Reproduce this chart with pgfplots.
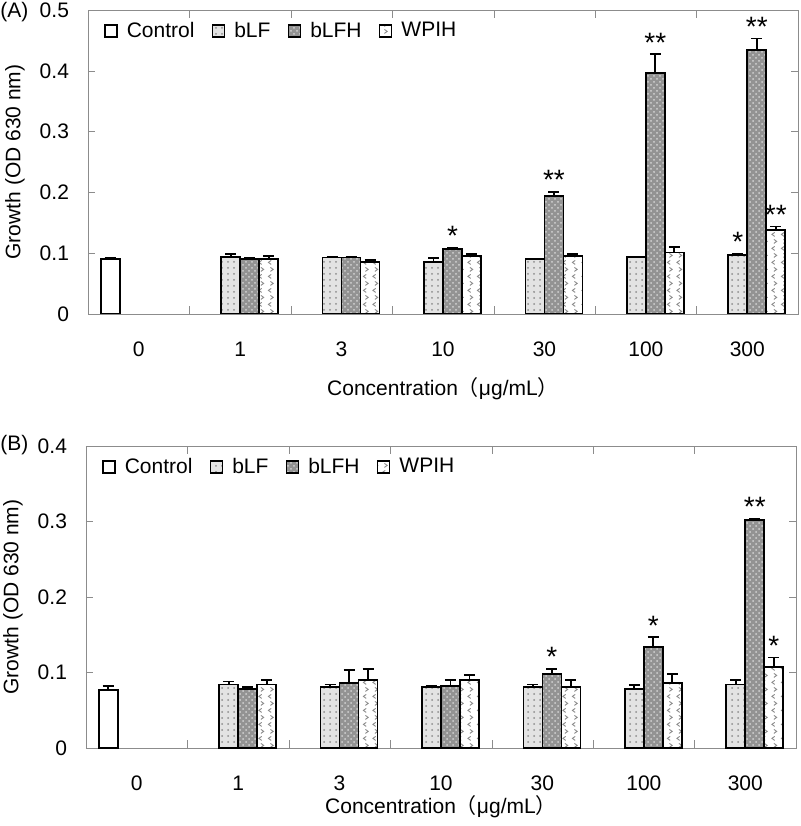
\documentclass[border=0pt]{standalone}
\usepackage{fontspec}
\setmainfont{Liberation Sans}
\newfontfamily\cjk{Noto Sans CJK SC}
\usepackage{pgfplots}
\pgfplotsset{compat=1.18}
\usepackage{pgfplotstable}
\usetikzlibrary{patterns}

% chevron pattern for WPIH
\pgfdeclarepatternformonly{chev}{\pgfqpoint{-1pt}{-1pt}}{\pgfqpoint{6pt}{8pt}}{\pgfqpoint{4.75pt}{7pt}}{%
  \pgfsetlinewidth{0.45pt}%
  \pgfpathmoveto{\pgfqpoint{2.6pt}{0.8pt}}\pgfpathlineto{\pgfqpoint{1.2pt}{1.8pt}}\pgfpathlineto{\pgfqpoint{2.6pt}{2.8pt}}%
  \pgfpathmoveto{\pgfqpoint{2.2pt}{4.3pt}}\pgfpathlineto{\pgfqpoint{3.6pt}{5.3pt}}\pgfpathlineto{\pgfqpoint{2.2pt}{6.3pt}}%
  \pgfusepath{stroke}}

% panel A: category index, mean, error
\pgfplotstableread{
x  bLF   bLFe  bLFH  bLFHe WPIH  WPIHe
1  0.094 0.005 0.090 0.002 0.090 0.005
2  0.093 0.001 0.093 0.001 0.085 0.004
3  0.085 0.007 0.107 0.002 0.095 0.004
4  0.090 0.000 0.194 0.007 0.095 0.004
5  0.094 0.000 0.396 0.031 0.101 0.009
6  0.097 0.002 0.434 0.019 0.138 0.006
}\dataA
% panel B
\pgfplotstableread{
x  bLF   bLFe  bLFH  bLFHe WPIH  WPIHe
1  0.084 0.004 0.078 0.003 0.084 0.006
2  0.081 0.003 0.086 0.017 0.090 0.015
3  0.081 0.001 0.082 0.008 0.090 0.007
4  0.081 0.003 0.098 0.007 0.081 0.009
5  0.078 0.005 0.134 0.013 0.086 0.012
6  0.084 0.006 0.302 0.002 0.107 0.013
}\dataB

\tikzset{sig/.style={font=\fontsize{14}{14}\selectfont, anchor=base, inner sep=0pt, yshift=1pt}}

\pgfplotsset{
  panel/.style={
    scale only axis, width=355pt,
    ybar=0pt, bar width=9.5pt,
    xmin=-0.5, xmax=6.5, ymin=0,
    xtick={0,...,6}, xticklabels={0,1,3,10,30,100,300},
    minor xtick={0.5,1.5,2.5,3.5,4.5,5.5},
    major x tick style={draw=none},
    ytick distance=0.1,
    tick align=inside,
    major tick length=3.5pt, minor tick length=3.8pt,
    axis line style={gray!90},
    tick style={gray!90},
    font=\fontsize{10.5}{12}\selectfont,
    /pgf/number format/assume math mode=true,
    y tick label style={xshift=-6pt, /pgf/number format/.cd, fixed, precision=1},
    x tick label style={yshift=-10.5pt},
    ylabel={Growth (OD 630 nm)},
    xlabel={Concentration{\cjk （}μg/mL{\cjk ）}},
    every axis y label/.style={at={(axis description cs:0,0.5)}, xshift=-36.5pt, rotate=90, anchor=center},
    legend columns=4,
    legend cell align=left,
    legend style={draw=none, fill=none, inner sep=0pt, at={(0.022,0.975)}, anchor=north west,
      /tikz/every even column/.append style={column sep=6.5pt}},
    legend image code/.code={\draw[#1] (0pt,-3pt) rectangle (6pt,3pt); \path (8.5pt,0pt);},
    error bars/y dir=plus, error bars/y explicit,
    error bars/error mark=-,
    error bars/error bar style={line width=0.9pt, black, solid},
    error bars/error mark options={rotate=90, mark size=2.75pt, line width=0.9pt, black},
  },
  ctrl/.style={draw=black, line width=0.9pt, fill=white},
  blf/.style={draw=black, line width=0.9pt, fill=gray!22, postaction={pattern=dots, pattern color=gray!90}},
  blfh/.style={draw=black, line width=0.9pt, fill=gray!85, postaction={pattern=crosshatch dots, pattern color=gray!35}},
  wpih/.style={draw=black, line width=0.9pt, fill=white, postaction={pattern=chev, pattern color=gray!90}},
}

\begin{document}
\begin{tikzpicture}
\useasboundingbox (0,0) rectangle (400pt,-413pt);
\node[anchor=west, inner sep=0pt, font=\fontsize{10.5}{12}\selectfont] at (0,-6pt) {(A)};
\node[anchor=west, inner sep=0pt, font=\fontsize{10.5}{12}\selectfont] at (0,-222.5pt) {(B)};

\begin{axis}[panel, at={(44pt,-5pt)}, anchor=north west, height=152pt, ymax=0.5,
  every axis x label/.style={at={(axis description cs:0.5,0)}, yshift=-37.5pt, anchor=center}]
  \addplot[ctrl] coordinates {(0,0.090) +- (0,0.002)};
  \addplot[blf]  table[x=x, y=bLF,  y error=bLFe]  {\dataA};
  \addplot[blfh] table[x=x, y=bLFH, y error=bLFHe] {\dataA};
  \addplot[wpih] table[x=x, y=WPIH, y error=WPIHe] {\dataA};
  \legend{Control, bLF, bLFH, WPIH}
  \node[sig, xshift=4.75pt]  at (axis cs:3,0.109) {*};
  \node[sig, xshift=4.75pt]  at (axis cs:4,0.201) {**};
  \node[sig, xshift=4.75pt]  at (axis cs:5,0.427) {**};
  \node[sig, xshift=-4.75pt] at (axis cs:6,0.099) {*};
  \node[sig, xshift=4.75pt]  at (axis cs:6,0.453) {**};
  \node[sig, xshift=14.25pt] at (axis cs:6,0.144) {**};
\end{axis}

\begin{axis}[panel, at={(43pt,-223pt)}, anchor=north west, height=151pt, ymax=0.4,
  every axis x label/.style={at={(axis description cs:0.5,0)}, yshift=-29.5pt, anchor=center}]
  \addplot[ctrl] coordinates {(0,0.077) +- (0,0.005)};
  \addplot[blf]  table[x=x, y=bLF,  y error=bLFe]  {\dataB};
  \addplot[blfh] table[x=x, y=bLFH, y error=bLFHe] {\dataB};
  \addplot[wpih] table[x=x, y=WPIH, y error=WPIHe] {\dataB};
  \legend{Control, bLF, bLFH, WPIH}
  \node[sig, xshift=4.75pt]  at (axis cs:4,0.105) {*};
  \node[sig, xshift=4.75pt]  at (axis cs:5,0.147) {*};
  \node[sig, xshift=4.75pt]  at (axis cs:6,0.304) {**};
  \node[sig, xshift=14.25pt] at (axis cs:6,0.120) {*};
\end{axis}
\end{tikzpicture}
\end{document}
